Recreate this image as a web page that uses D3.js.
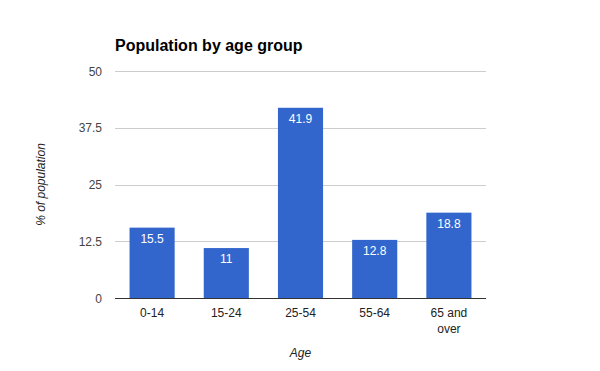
<!DOCTYPE html>
<html><head><meta charset="utf-8">
<script src="https://cdn.jsdelivr.net/npm/d3@7"></script>
<style>body{margin:0;background:#fff}svg{display:block;font-family:"Liberation Sans",Arial,sans-serif}</style>
</head><body><svg id="c" width="600" height="371"></svg>
<script>
const categories = ["0-14", "15-24", "25-54", "55-64", "65 and over"];
const values = [15.5, 11, 41.9, 12.8, 18.8];
const yTicks = [0, 12.5, 25, 37.5, 50];
const title = "Population by age group";
const xTitle = "Age";
const yTitle = "% of population";

(function () {
const svg = d3.select("#c");
const pLeft = 115, pRight = 486, pTop = 71, pBottom = 298;
const x = d3.scaleBand().domain(categories).range([pLeft, pRight]).paddingInner(0.392).paddingOuter(0.196);
const y = d3.scaleLinear().domain([0, 50]).range([pBottom, pTop]);

svg.append("g").selectAll("line").data(yTicks.filter(d => d > 0)).join("line")
  .attr("x1", pLeft).attr("x2", pRight).attr("y1", d => Math.round(y(d)) + 0.5).attr("y2", d => Math.round(y(d)) + 0.5)
  .attr("stroke", "#cccccc").attr("stroke-width", 1);

svg.append("g").selectAll("text").data(yTicks).join("text")
  .attr("x", 102).attr("y", d => y(d) + 4.5).attr("text-anchor", "end")
  .attr("font-size", 12).attr("fill", "#444").text(d => d);

svg.append("g").selectAll("rect").data(values).join("rect")
  .attr("x", (d, i) => x(categories[i])).attr("width", x.bandwidth())
  .attr("y", d => y(d)).attr("height", d => y(0) - y(d)).attr("fill", "#3366cc");

svg.append("g").selectAll("text").data(values).join("text")
  .attr("x", (d, i) => x(categories[i]) + x.bandwidth() / 2).attr("y", d => y(d) + 15)
  .attr("text-anchor", "middle").attr("font-size", 12).attr("fill", "#fff").text(d => d);

svg.append("line").attr("x1", pLeft).attr("x2", pRight).attr("y1", pBottom + 0.5).attr("y2", pBottom + 0.5)
  .attr("stroke", "#333").attr("stroke-width", 1);

const xl = svg.append("g").selectAll("text").data(categories).join("text")
  .attr("x", d => x(d) + x.bandwidth() / 2).attr("y", 317).attr("text-anchor", "middle")
  .attr("font-size", 12).attr("fill", "#222");
xl.each(function (d) {
  const t = d3.select(this);
  const lines = d === "65 and over" ? ["65 and", "over"] : [d];
  lines.forEach((s, i) => t.append("tspan").attr("x", x(d) + x.bandwidth() / 2).attr("dy", i ? 16 : 0).text(s));
});

svg.append("text").attr("x", 115).attr("y", 51).attr("font-size", 16).attr("font-weight", "bold").attr("fill", "#000").text(title);
svg.append("text").attr("x", pLeft + (pRight - pLeft) / 2).attr("y", 357).attr("text-anchor", "middle")
  .attr("font-size", 12).attr("font-style", "italic").attr("fill", "#222").text(xTitle);
svg.append("text").attr("transform", "translate(45," + ((pTop + pBottom) / 2) + ") rotate(-90)").attr("text-anchor", "middle")
  .attr("font-size", 12).attr("font-style", "italic").attr("fill", "#222").text(yTitle);
})();
</script></body></html>
